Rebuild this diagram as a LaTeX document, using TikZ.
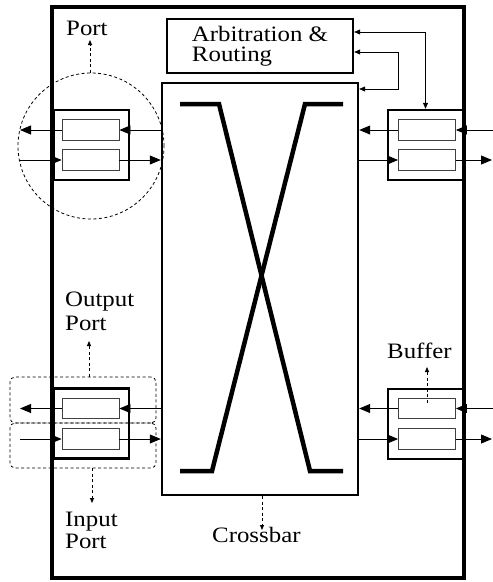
\documentclass[tikz,border=0pt]{standalone}
\usepackage{fontspec}
\setmainfont{Liberation Serif}[FakeStretch=1.13]
\usetikzlibrary{arrows.meta}
\begin{document}
\begin{tikzpicture}[x=1pt,y=-1pt,
  outerbox/.style={draw, line width=3.6pt, inner sep=0},
  midbox/.style={draw, line width=2.4pt, inner sep=0},
  portbox/.style={midbox, minimum width=75pt, minimum height=70pt},
  buf/.style={draw=black!75, line width=0.8pt, inner sep=0, minimum width=57pt, minimum height=20.5pt},
  flow/.style={line width=0.8pt, -{Triangle[length=11pt,width=9pt]}},
  ctrl/.style={line width=0.7pt, {Triangle[length=6pt,width=5pt]}-{Triangle[length=6pt,width=5pt]}},
  pointer/.style={line width=0.8pt, dash pattern=on 3pt off 2.5pt, -{Triangle[length=5pt,width=4pt]}},
  groupbox/.style={draw, line width=0.8pt, dash pattern=on 3pt off 2.5pt, inner sep=0},
  xline/.style={line width=4.5pt},
  lbl/.style={inner sep=0, anchor=base west, align=left, font=\fontsize{22}{24}\selectfont}
]
\useasboundingbox (0,0) rectangle (493,582);

% router, arbiter, crossbar
\node[outerbox, minimum width=412pt, minimum height=571pt] (router) at (258,292.5) {};
\node[midbox, minimum width=186pt, minimum height=54pt, align=left,
      font=\fontsize{22}{20}\selectfont] (arb) at (260,46) {Arbitration \&\\Routing};
\node[midbox, minimum width=196pt, minimum height=412pt] (xbar) at (260,289) {};

% crossbar X
\draw[xline] (180,104) -- (219,104) -- (310,471) -- (343,471);
\draw[xline] (343,104) -- (305,104) -- (212,471) -- (180,471);

% ports
\node[portbox] (ptl) at (91.5,145) {};
\node[buf] (tlo) at (90.5,130) {};
\node[buf] (tli) at (90.5,160) {};
\node[portbox] (ptr) at (425.5,145) {};
\node[buf] (tro) at (427,130) {};
\node[buf] (tri) at (427,160) {};
\node[portbox] (pbl) at (91.5,423.5) {};
\node[buf] (blo) at (90.5,408.5) {};
\node[buf] (bli) at (90.5,439) {};
\node[portbox] (pbr) at (425.5,424) {};
\node[buf] (bro) at (427,408.5) {};
\node[buf] (bri) at (427,439) {};

% free ends
\coordinate (tlA) at (20,130);
\coordinate (tlB) at (20,160);
\coordinate (trA) at (493,130);
\coordinate (trB) at (492,160);
\coordinate (blA) at (20,408.5);
\coordinate (blB) at (20,439);
\coordinate (brA) at (493,408.5);
\coordinate (brB) at (492,439);

% flows top-left
\draw[flow] (xbar.west |- tlo) -- (tlo.east);
\draw[flow] (tlo.west) -- (tlA);
\draw[flow] (tlB) -- (tli.west);
\draw[flow] (tli.east) -- (xbar.west |- tli);
% top-right
\draw[flow] (trA) -- (tro.east);
\draw[flow] (tro.west) -- (xbar.east |- tro);
\draw[flow] (xbar.east |- tri) -- (tri.west);
\draw[flow] (tri.east) -- (trB);
% bottom-left
\draw[flow] (xbar.west |- blo) -- (blo.east);
\draw[flow] (blo.west) -- (blA);
\draw[flow] (blB) -- (bli.west);
\draw[flow] (bli.east) -- (xbar.west |- bli);
% bottom-right
\draw[flow] (brA) -- (bro.east);
\draw[flow] (bro.west) -- (xbar.east |- bro);
\draw[flow] (xbar.east |- bri) -- (bri.west);
\draw[flow] (bri.east) -- (brB);

% arbitration control
\coordinate (c1) at (425.5,32);
\coordinate (c2) at (398,52);
\coordinate (c3) at (398,89);
\draw[ctrl] (arb.east |- c1) -| (ptr.north);
\draw[ctrl] (arb.east |- c2) -- (c2) |- (xbar.east |- c3);

% port annotations
\node[draw, circle, line width=0.8pt, dash pattern=on 3pt off 2.5pt, inner sep=0, minimum size=146pt] (portc) at (91,146) {};
\node[lbl] (portl) at (66,35) {Port};
\coordinate (pt1) at (90,40);
\draw[pointer] (portc.north -| pt1) -- (pt1);

\node[groupbox, rounded corners=5pt, minimum width=146pt, minimum height=46pt] (outp) at (83,400) {};
\node[groupbox, rounded corners=5pt, minimum width=146pt, minimum height=45pt] (inp) at (83,445.5) {};
\node[lbl] (outl) at (65,330) {Output\\Port};
\coordinate (pt2) at (89,341);
\draw[pointer] (outp.north -| pt2) -- (pt2);
\node[lbl, font=\fontsize{22}{22}\selectfont] (inl) at (65,548) {Input\\Port};
\coordinate (pt3) at (92,503);
\draw[pointer] (inp.south -| pt3) -- (pt3);

\node[lbl] (bufl) at (387,358) {Buffer};
\coordinate (pt4) at (427,367);
\draw[pointer] ([yshift=6pt]bro.center) -- (pt4);

\node[lbl] (xbl) at (212,542) {Crossbar};
\coordinate (pt5) at (262,530);
\draw[pointer] (xbar.south -| pt5) -- (pt5);
\end{tikzpicture}
\end{document}
